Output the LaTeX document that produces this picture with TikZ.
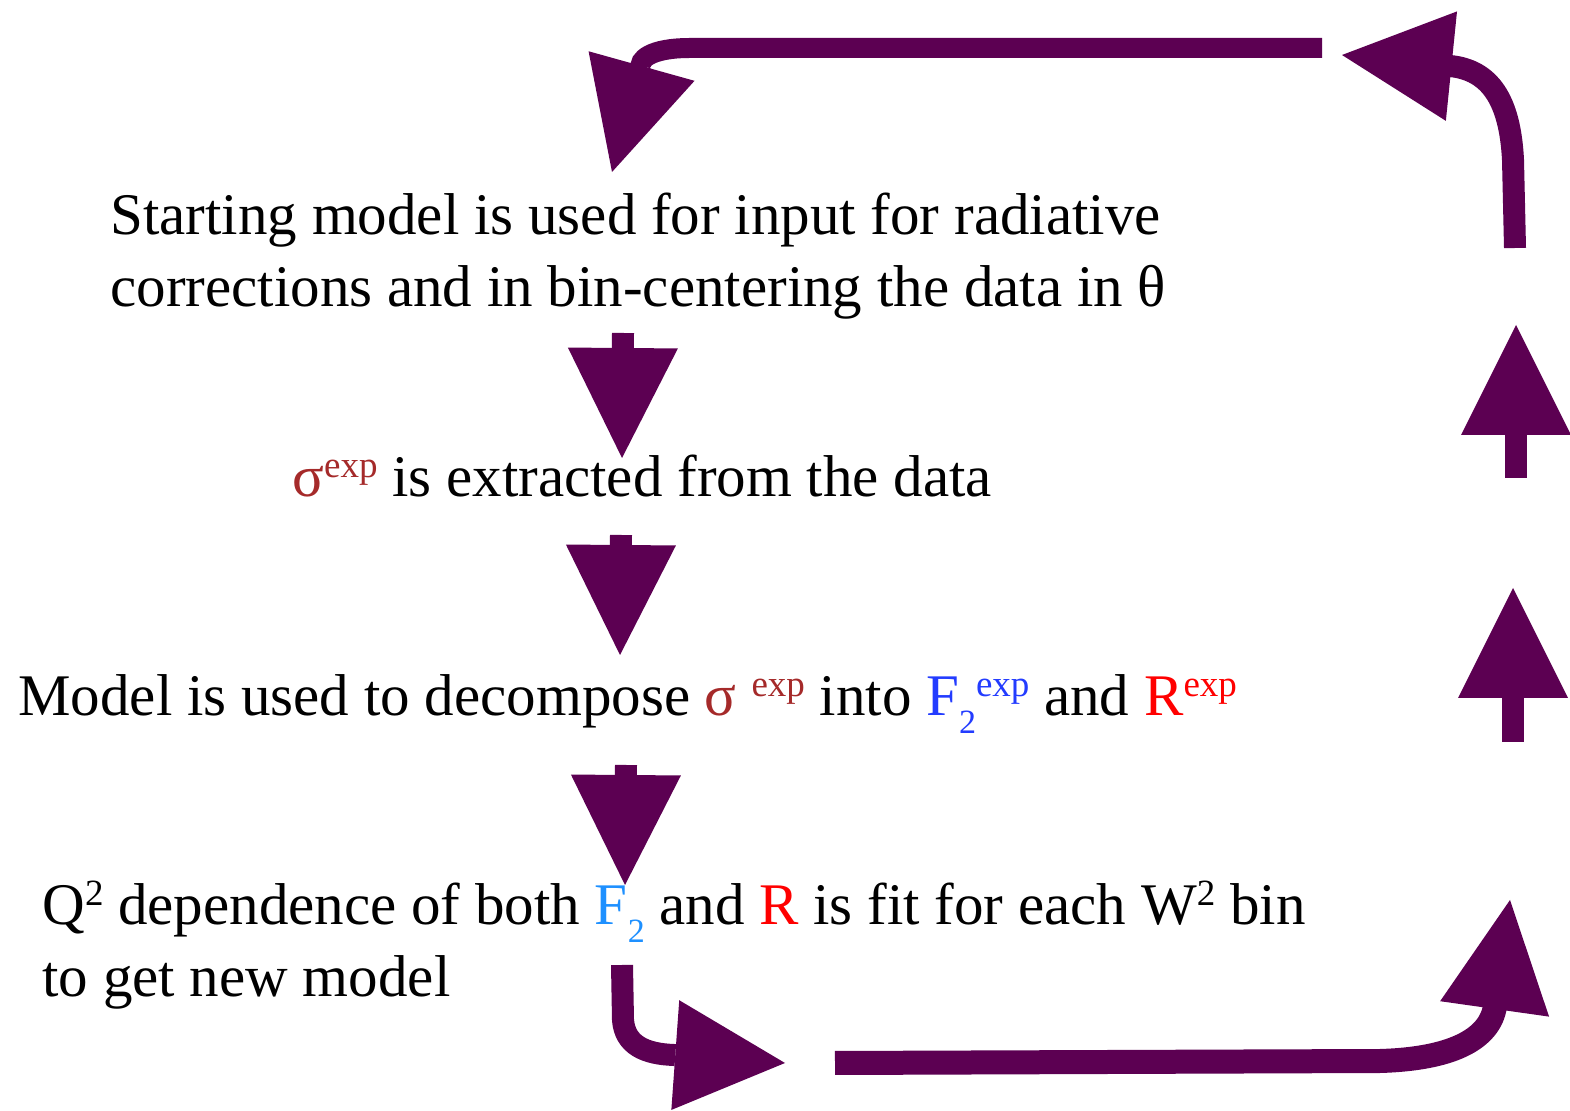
\documentclass[tikz,border=0pt]{standalone}
\usepackage{fontspec}
\setmainfont{Liberation Serif}
\usetikzlibrary{arrows.meta}
\definecolor{arrowc}{RGB}{92,0,82}
\definecolor{sigc}{RGB}{165,42,42}
\definecolor{fbluea}{RGB}{35,60,255}
\definecolor{fblueb}{RGB}{30,144,255}
\definecolor{rred}{RGB}{255,0,0}
\newcommand\mysup[1]{\raisebox{9.5pt}{\fontsize{18.5pt}{18.5pt}\selectfont #1}}
\newcommand\mysub[1]{\raisebox{-9pt}{\fontsize{17pt}{17pt}\selectfont #1}}
\begin{document}
\begin{tikzpicture}[x=0.5pt,y=-0.5pt,
  txt/.style={anchor=base west, inner sep=0pt, font=\fontsize{29.5pt}{36pt}\selectfont},
  fat/.style={draw=arrowc, line width=11pt, -{Triangle[length=55pt,width=55pt,line width=0pt]}},
]
\useasboundingbox[fill=white] (0,0) rectangle (1570,1111);

% texts
\node[txt] (l1a) at (110,235) {Starting model is used for input for radiative};
\node[txt] (l1b) at (110,307) {corrections and in bin-centering the data in θ};
\node[txt] (l2) at (292,497) {{\color{sigc}σ\mysup{exp}} is extracted from the data};
\node[txt] (l3) at (18,716) {Model is used to decompose {\color{sigc}σ \mysup{exp}} into {\color{fbluea}F\mysub{2}\mysup{exp}} and {\color{rred}R\mysup{exp}}};
\node[txt] (l4a) at (42,925) {Q\mysup{2} dependence of both {\color{fblueb}F\mysub{2}} and {\color{rred}R} is fit for each W\mysup{2} bin};
\node[txt] (l4b) at (42,997) {to get new model};

% coordinates
\coordinate (d1s) at (623,333); \coordinate (d1e) at (622,458);
\coordinate (d2s) at (621,535); \coordinate (d2e) at (620,655);
\coordinate (d3s) at (626,765); \coordinate (d3e) at (625,885);
\coordinate (u1s) at (1516,478); \coordinate (u1e) at (1516,325);
\coordinate (u2s) at (1513,742); \coordinate (u2e) at (1513,588);
\coordinate (bls) at (622,965); \coordinate (ble) at (785,1063);
\coordinate (brs) at (835,1063); \coordinate (bre) at (1510,900);
\coordinate (trs) at (1515,248); \coordinate (tre) at (1342,55);
\coordinate (tls) at (1322,48); \coordinate (tle) at (612,172);

% arrows
\draw[fat] (d1s) -- (d1e);
\draw[fat] (d2s) -- (d2e);
\draw[fat] (d3s) -- (d3e);
\draw[fat] (u1s) -- (u1e);
\draw[fat] (u2s) -- (u2e);
\draw[fat] (bls) -- (623,1020) .. controls (625,1045) and (645,1054) .. (674,1055) -- (ble);
\draw[fat,line width=12pt] (brs) -- (1380,1061) .. controls (1450,1059) and (1490,1040) .. (1495,1006) -- (bre);
\draw[fat] (trs) -- (1513,160) .. controls (1510,100) and (1490,70) .. (1450,66) -- (tre);
\draw[fat,line width=10pt] (tls) -- (690,48) .. controls (650,48) and (638,60) .. (641,68) -- (tle);
\end{tikzpicture}
\end{document}
